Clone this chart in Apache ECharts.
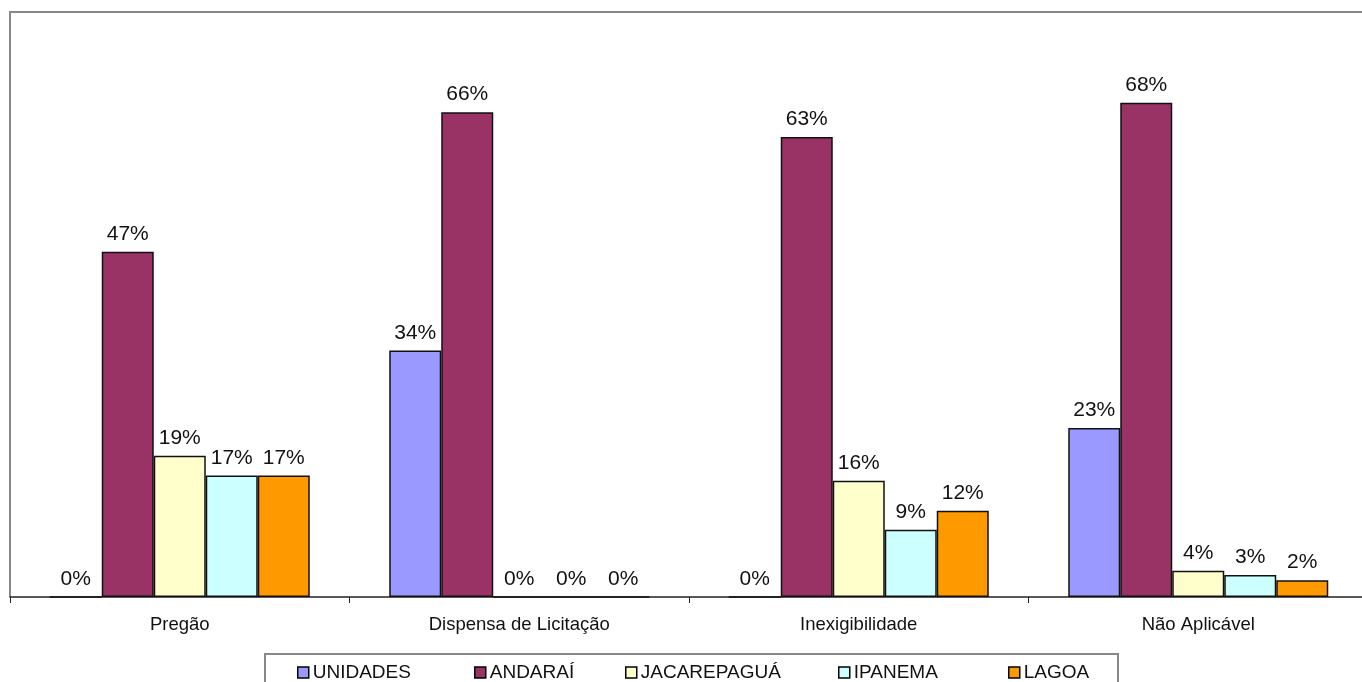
<!DOCTYPE html>
<html>
<head>
<meta charset="utf-8">
<script src="https://cdn.jsdelivr.net/npm/echarts@6/dist/echarts.min.js"></script>
<style>
  html, body { margin: 0; padding: 0; background: #fff; }
  #chart { width: 1362px; height: 682px; }
</style>
</head>
<body>
<div id="chart"></div>
<script>
// categorias e valores (%)
var categories = ['Pregão', 'Dispensa de Licitação', 'Inexigibilidade', 'Não Aplicável'];
var unidades    = [0, 33.7, 0, 23.1];
var andarai     = [47.2, 66.3, 62.9, 67.6];
var jacarepagua = [19.3, 0, 15.9, 3.6];
var ipanema     = [16.6, 0, 9.2, 3.0];
var lagoa       = [16.6, 0, 11.8, 2.3];

var seriesNames = ['UNIDADES', 'ANDARAÍ', 'JACAREPAGUÁ', 'IPANEMA', 'LAGOA'];
var seriesData = [unidades, andarai, jacarepagua, ipanema, lagoa];
var colors = ['#9999ff', '#993366', '#ffffcc', '#ccffff', '#ff9900'];
var legendLeft = [297, 474, 625, 838, 1008];

var font = 'Liberation Sans, Arial, sans-serif';
var chart = echarts.init(document.getElementById('chart'));

var option = {
  animation: false,
  grid: { left: 10, top: 12, width: 1358, height: 585, outerBoundsMode: 'none', containLabel: false },
  xAxis: {
    type: 'category',
    data: categories,
    axisLine: { lineStyle: { color: '#222', width: 1.5 } },
    axisTick: { show: true, length: 6, lineStyle: { color: '#222' } },
    axisLabel: { color: '#111', fontSize: 18.5, fontFamily: font, margin: 18 }
  },
  yAxis: {
    type: 'value', min: 0, max: 80, show: false
  },
  legend: seriesNames.map(function (n, i) {
    return {
      data: [n], left: legendLeft[i], top: 663, padding: 0,
      itemWidth: 11, itemHeight: 11, icon: 'rect',
      itemStyle: { borderColor: '#000', borderWidth: 1.5 },
      textStyle: { color: '#111', fontSize: 19, fontFamily: font, padding: [0, 0, 0, -1] }
    };
  }),
  graphic: [{
    // moldura do gráfico (só topo e esquerda aparecem)
    type: 'polyline',
    shape: { points: [[10, 597], [10, 12], [1362, 12]] },
    style: { fill: null, stroke: '#888', lineWidth: 2 },
    z: -1
  }, {
    // caixa da legenda
    type: 'rect',
    shape: { x: 265, y: 654, width: 853, height: 40 },
    style: { fill: 'none', stroke: '#888', lineWidth: 2 },
    z: -1
  }],
  series: seriesNames.map(function (n, i) {
    return {
      name: n,
      type: 'bar',
      data: seriesData[i],
      barWidth: 52,
      barGap: '0%',
      itemStyle: { color: colors[i], borderColor: '#111', borderWidth: 1.5 },
      label: {
        show: true, position: 'top', distance: 7,
        color: '#111', fontSize: 21, fontFamily: font,
        formatter: function (p) { return Math.round(p.value) + '%'; }
      }
    };
  })
};
chart.setOption(option);
</script>
</body>
</html>
